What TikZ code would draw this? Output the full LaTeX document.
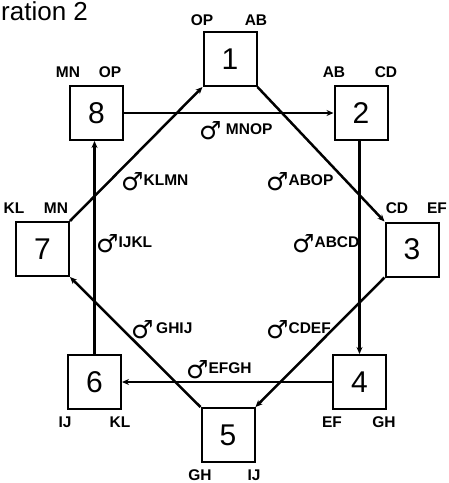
\documentclass[tikz,border=0pt]{standalone}
\usepackage{fontspec}
\setmainfont{Liberation Sans}
\newfontfamily\symfont{DejaVu Sans}
\usetikzlibrary{arrows.meta}
\newcommand\marsign{{\symfont\fontsize{25}{25}\selectfont\raisebox{-5pt}{♂}}}
\tikzset{
  box/.style={draw, line width=2pt, minimum width=53pt, minimum height=54pt, inner sep=0pt,
    font=\fontsize{30}{30}\selectfont},
  conn/.style={line width=2.5pt, -{Stealth[length=7pt,width=6pt]}},
  corner/.style={inner sep=0pt, font=\fontsize{15.5}{15.5}\selectfont\bfseries},
  mlab/.style={inner sep=0pt, anchor=base west, font=\fontsize{15.5}{15.5}\selectfont\bfseries},
}
\begin{document}
\begin{tikzpicture}[x=1pt,y=-1pt]
\useasboundingbox[fill=white] (0,0) rectangle (449,483);
\node[inner sep=0pt, anchor=base west, font=\fontsize{26}{26}\selectfont] (title) at (1,20) {ration 2};
% boxes
\node[box] (b1) at (230,59) {1};
\node[box] (b8) at (96.5,113) {8};
\node[box] (b2) at (361,113) {2};
\node[box] (b7) at (42.5,249) {7};
\node[box] (b3) at (412,249.5) {3};
\node[box] (b6) at (94.5,382) {6};
\node[box] (b4) at (359.5,382) {4};
\node[box] (b5) at (228,435) {5};
% corner labels
\node[corner] (l1a) at (202,20) {OP};
\node[corner] (l1b) at (256,20) {AB};
\node[corner] (l8a) at (68,72) {MN};
\node[corner] (l8b) at (110,72) {OP};
\node[corner] (l2a) at (334,72) {AB};
\node[corner] (l2b) at (386,72) {CD};
\node[corner] (l7a) at (14,208) {KL};
\node[corner] (l7b) at (56,208) {MN};
\node[corner] (l3a) at (397,208) {CD};
\node[corner] (l3b) at (437,208) {EF};
\node[corner] (l6a) at (65,422) {IJ};
\node[corner] (l6b) at (120,422) {KL};
\node[corner] (l4a) at (332,422) {EF};
\node[corner] (l4b) at (384,422) {GH};
\node[corner] (l5a) at (200,475) {GH};
\node[corner] (l5b) at (254,475) {IJ};
% connectors
\draw[conn] (b8.east) -- (b2.west);
\draw[conn] (b2.south -| b4) -- (b4.north);
\draw[conn] (b4.west) -- (b6.east);
\draw[conn] (b6.north) -- (b8.south -| b6);
\draw[conn] (b1.south east) -- (b3.north west);
\draw[conn] (b3.south west) -- (b5.north east);
\draw[conn] (b5.north west) -- (b7.south east);
\draw[conn] (b7.north east) -- (b1.south west);
% male labels
\node[mlab] (m1) at (199,134) {\marsign\ MNOP};
\node[mlab] (m2) at (121,185) {\marsign KLMN};
\node[mlab] (m3) at (266,185) {\marsign ABOP};
\node[mlab] (m4) at (96,247) {\marsign IJKL};
\node[mlab] (m5) at (292,247) {\marsign ABCD};
\node[mlab] (m6) at (131,333) {\marsign\,GHIJ};
\node[mlab] (m7) at (266,333) {\marsign CDEF};
\node[mlab] (m8) at (186,373) {\marsign EFGH};
\end{tikzpicture}
\end{document}
